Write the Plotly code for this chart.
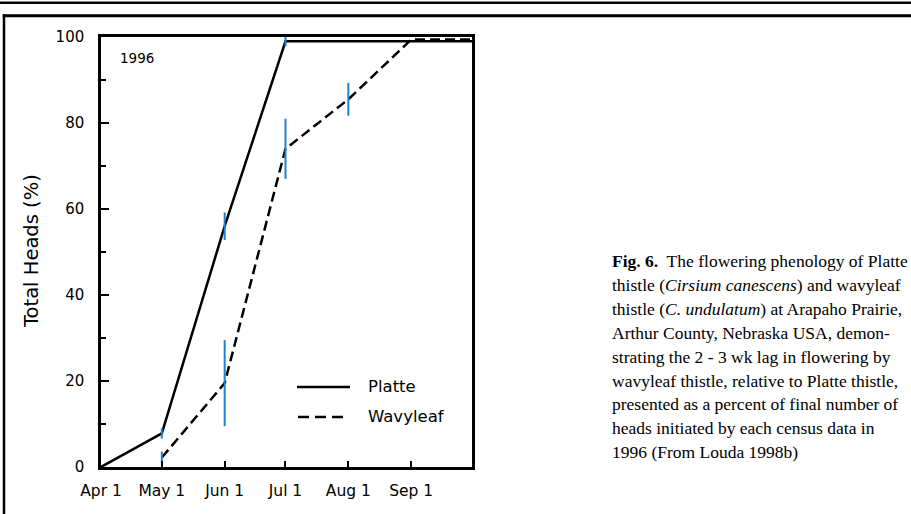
import plotly.graph_objects as go

# ---- data ----
platte_dates = ["1996-04-01", "1996-05-01", "1996-06-01", "1996-07-01", "1996-10-01"]
platte_vals = [0, 7.8, 56, 99, 99]
platte_err_dates = ["1996-05-01", "1996-06-01", "1996-07-01"]
platte_err_vals = [7.8, 56, 99]
platte_err = [1.2, 3.2, 1.2]

wavy_dates = ["1996-05-01", "1996-06-01", "1996-07-01", "1996-08-01", "1996-09-01", "1996-10-01"]
wavy_vals = [2.2, 19.5, 74, 85.5, 99.4, 99.4]
wavy_err_dates = ["1996-05-01", "1996-06-01", "1996-07-01", "1996-08-01"]
wavy_err_vals = [2.2, 19.5, 74, 85.5]
wavy_err = [1.4, 10, 7, 3.8]

x_tickvals = ["1996-04-01", "1996-05-01", "1996-06-01", "1996-07-01", "1996-08-01", "1996-09-01"]
x_ticktext = ["Apr 1", "May 1", "Jun 1", "Jul 1", "Aug 1", "Sep 1"]
y_tickvals = [0, 20, 40, 60, 80, 100]
y_minor = [10, 30, 50, 70, 90]

caption_lines = [
    "<b>Fig. 6.</b>\u00a0 The flowering phenology of Platte",
    "thistle (<i>Cirsium canescens</i>) and wavyleaf",
    "thistle (<i>C. undulatum</i>) at Arapaho Prairie,",
    "Arthur County, Nebraska USA, demon-",
    "strating the 2 - 3 wk lag in flowering by",
    "wavyleaf thistle, relative to Platte thistle,",
    "presented as a percent of final number of",
    "heads initiated by each census data in",
    "1996 (From Louda 1998b)",
]

W, H = 911, 514
L, R, T, B = 101, 472, 37, 467


def px(x):
    return (x - L) / (R - L)


def py(y):
    return (B - y) / (B - T)


ERR_COLOR = "#1f80cf"
AX_FONT = "DejaVu Sans"

fig = go.Figure()
fig.add_trace(go.Scatter(x=platte_dates, y=platte_vals, mode="lines",
                         line=dict(color="black", width=2.5), showlegend=False))
fig.add_trace(go.Scatter(x=wavy_dates, y=wavy_vals, mode="lines",
                         line=dict(color="black", width=2.5, dash="10px,5px"), showlegend=False))
fig.add_trace(go.Scatter(x=platte_err_dates, y=platte_err_vals, mode="markers",
                         marker=dict(size=1, opacity=0), showlegend=False,
                         error_y=dict(type="data", array=platte_err, color=ERR_COLOR,
                                      thickness=2, width=0)))
fig.add_trace(go.Scatter(x=wavy_err_dates, y=wavy_err_vals, mode="markers",
                         marker=dict(size=1, opacity=0), showlegend=False,
                         error_y=dict(type="data", array=wavy_err, color=ERR_COLOR,
                                      thickness=2, width=0)))

shapes = []
# page frame lines
shapes.append(dict(type="line", xref="paper", yref="paper", x0=px(-5), x1=px(W + 5),
                   y0=py(2.8), y1=py(2.8), line=dict(color="black", width=2.5)))
shapes.append(dict(type="line", xref="paper", yref="paper", x0=px(2.7), x1=px(W + 5),
                   y0=py(15.7), y1=py(15.7), line=dict(color="black", width=3)))
shapes.append(dict(type="line", xref="paper", yref="paper", x0=px(4), x1=px(4),
                   y0=py(14.5), y1=py(H + 5), line=dict(color="black", width=2.5)))
# legend samples
shapes.append(dict(type="line", xref="paper", yref="paper", x0=px(297), x1=px(350),
                   y0=py(387), y1=py(387), line=dict(color="black", width=2.5)))
shapes.append(dict(type="line", xref="paper", yref="paper", x0=px(298), x1=px(344),
                   y0=py(417), y1=py(417), line=dict(color="black", width=2.5, dash="11px,6px")))

annotations = []
annotations.append(dict(text="1996", xref="paper", yref="paper", x=px(118), y=py(58),
                        xanchor="left", yanchor="middle", showarrow=False,
                        font=dict(family=AX_FONT, size=13.5, color="black")))
annotations.append(dict(text="Platte", xref="paper", yref="paper", x=px(366), y=py(386),
                        xanchor="left", yanchor="middle", showarrow=False,
                        font=dict(family=AX_FONT, size=16.5, color="black")))
annotations.append(dict(text="Wavyleaf", xref="paper", yref="paper", x=px(366), y=py(416),
                        xanchor="left", yanchor="middle", showarrow=False,
                        font=dict(family=AX_FONT, size=16.5, color="black")))
annotations.append(dict(text="Total Heads (%)", xref="paper", yref="paper", x=px(32), y=py(251),
                        xanchor="center", yanchor="middle", textangle=-90, showarrow=False,
                        font=dict(family=AX_FONT, size=19.5, color="black")))
for i, line in enumerate(caption_lines):
    annotations.append(dict(text=line, xref="paper", yref="paper", x=px(610),
                            y=py(261 + 23.9 * i), xanchor="left", yanchor="middle",
                            showarrow=False,
                            font=dict(family="Liberation Serif", size=17.5, color="black")))

fig.update_layout(
    width=W, height=H,
    margin=dict(l=L, r=W - R, t=T, b=H - B, autoexpand=False),
    paper_bgcolor="white", plot_bgcolor="white",
    showlegend=False,
    shapes=shapes, annotations=annotations,
    xaxis=dict(type="date", range=["1996-04-01", "1996-10-01"],
               tickvals=x_tickvals, ticktext=x_ticktext,
               ticks="inside", ticklen=6, tickwidth=1.5, tickcolor="black",
               showline=True, linewidth=2.5, linecolor="black", mirror=True,
               showgrid=False, zeroline=False, ticklabelstandoff=8,
               tickfont=dict(family=AX_FONT, size=15.5, color="black")),
    yaxis=dict(range=[0, 100], tickvals=y_tickvals,
               ticks="inside", ticklen=8, tickwidth=1.5, tickcolor="black",
               minor=dict(tickvals=y_minor, ticks="inside", ticklen=5, tickwidth=1.5,
                          tickcolor="black"),
               showline=True, linewidth=2.5, linecolor="black", mirror=True,
               showgrid=False, zeroline=False, ticklabelstandoff=11,
               tickfont=dict(family=AX_FONT, size=15, color="black")),
)

fig.write_html("out.html",
               config={"displayModeBar": False},
               post_script="document.body.style.margin='0px';"
                           "document.body.style.overflow='hidden';")
